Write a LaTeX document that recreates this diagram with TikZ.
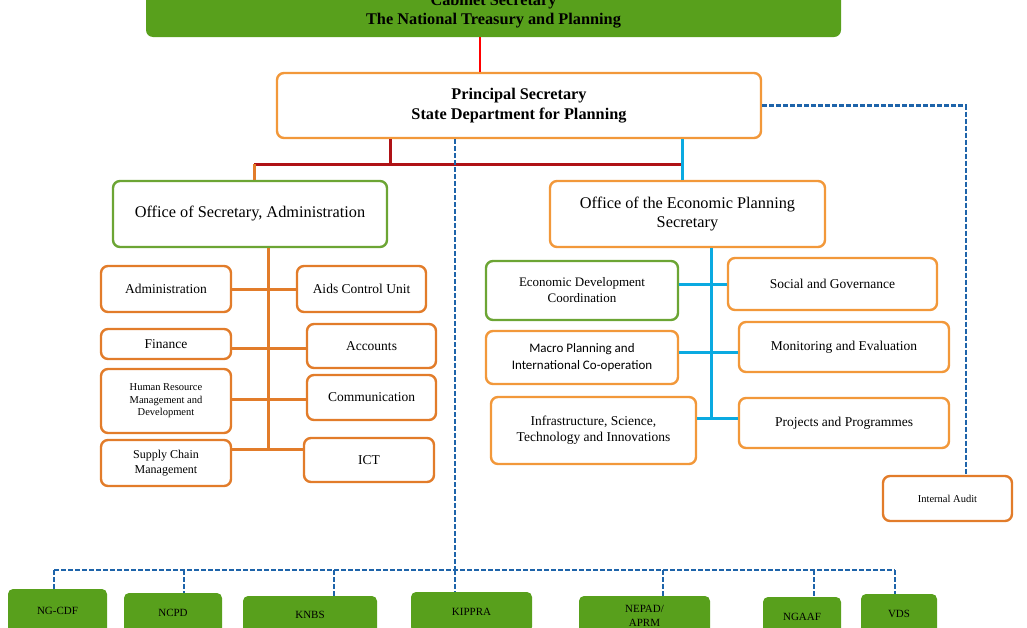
\documentclass[tikz,border=0pt]{standalone}
\usepackage{fontspec}
\setmainfont{Liberation Serif}
\newfontfamily\calib{Carlito}
\usepackage{tikz}
\usetikzlibrary{calc}
\definecolor{leafgreen}{RGB}{88,160,28}
\definecolor{edgegreen}{RGB}{108,165,52}
\definecolor{darkorange}{RGB}{226,124,42}
\definecolor{paleorange}{RGB}{242,152,58}
\definecolor{skyblue}{RGB}{10,170,225}
\definecolor{dashblue}{RGB}{30,100,170}
\definecolor{wine}{RGB}{175,18,22}
\tikzset{
	unit/.style={rounded corners=7pt, line width=2.4pt, fill=white, align=center, inner sep=0pt, text=black},
	leftunit/.style={unit, draw=darkorange, font=\fontsize{13.5}{16}\selectfont},
	rightunit/.style={unit, draw=paleorange, font=\fontsize{13.5}{16}\selectfont},
	greenunit/.style={unit, draw=edgegreen},
	agency/.style={rounded corners=5pt, fill=leafgreen, align=center, inner sep=0pt, font=\fontsize{11}{14}\selectfont},
	dashlink/.style={draw=dashblue, line width=2.4pt, dash pattern=on 5pt off 2pt},
	orangelink/.style={draw=darkorange, line width=3pt},
	bluelink/.style={draw=skyblue, line width=3pt}
}
\begin{document}
\begin{tikzpicture}[x=1pt, y=-1pt]
			%%%%% START %%%%%
			\useasboundingbox (0,0) rectangle (1027,627);
			\clip (0,0) rectangle (1027,627);
			
			% top of the tree
			\node[agency, rounded corners=7pt, minimum width=695pt, minimum height=51pt, font=\bfseries\fontsize{16.3}{19}\selectfont] (cabsec) at (493.5,11.5) {Cabinet Secretary\\The National Treasury and Planning};
			\node[unit, draw=paleorange, minimum width=484pt, minimum height=65pt, font=\bfseries\fontsize{16.3}{20}\selectfont] (ps) at (519,105.5) {Principal Secretary\\State Department for Planning};
			
			\coordinate (redx) at (480,0);
			\draw[red, line width=2.6pt] (cabsec.south -| redx) -- (ps.north -| redx);
			
			% the two offices
			\node[greenunit, minimum width=274pt, minimum height=66pt, font=\fontsize{16.3}{19}\selectfont] (offadmin) at (250,214) {Office of Secretary, Administration};
			\node[rightunit, minimum width=275pt, minimum height=66pt, font=\fontsize{16.3}{19}\selectfont] (offecon) at (687.5,214) {Office of the Economic Planning\\Secretary};
			
			\coordinate (winex) at (390,164);
			\coordinate (splitl) at (254,164);
			\coordinate (splitr) at (682,164);
			\draw[wine, line width=3pt] (ps.south -| winex) -- (winex);
			\draw[wine, line width=3pt] (splitl) -- (splitr);
			\draw[orangelink] (splitl) -- (offadmin.north -| splitl);
			\draw[bluelink] (ps.south -| splitr) -- (offecon.north -| splitr);
			
			% administration side
			\node[leftunit, minimum width=130pt, minimum height=46pt] (admin) at (166,289) {Administration};
			\node[leftunit, minimum width=129pt, minimum height=46pt] (aids) at (361.5,289) {Aids Control Unit};
			\node[leftunit, minimum width=130pt, minimum height=30pt] (finance) at (166,344) {Finance};
			\node[leftunit, minimum width=129pt, minimum height=44pt] (accounts) at (371.5,346) {Accounts};
			\node[leftunit, minimum width=130pt, minimum height=64pt, font=\fontsize{10.5}{12.5}\selectfont] (hrm) at (166,401) {Human Resource\\Management and\\Development};
			\node[leftunit, minimum width=129pt, minimum height=45pt] (comms) at (371.5,397.5) {Communication};
			\node[leftunit, minimum width=130pt, minimum height=46pt, font=\fontsize{12}{15}\selectfont] (supply) at (166,463) {Supply Chain\\Management};
			\node[leftunit, minimum width=130pt, minimum height=44pt] (ict) at (369,460) {ICT};
			
			\coordinate (abot) at (268,449);
			\draw[orangelink] (offadmin.south -| abot) -- (abot);
			\draw[orangelink] (admin.east) -- (aids.west);
			\draw[orangelink] (finance.east |- 0,348) -- (accounts.west |- 0,348);
			\draw[orangelink] (hrm.east |- 0,399) -- (comms.west |- 0,399);
			\draw[orangelink] (supply.east |- abot) -- (ict.west |- abot);
			
			% economic planning side
			\node[greenunit, minimum width=192pt, minimum height=59pt, font=\fontsize{13}{16}\selectfont] (edc) at (582,290.5) {Economic Development\\Coordination};
			\node[rightunit, minimum width=209pt, minimum height=52pt] (social) at (832.5,284) {Social and Governance};
			\node[rightunit, minimum width=192pt, minimum height=53pt, font=\calib\fontsize{13}{17}\selectfont] (macro) at (582,357.5) {Macro Planning and\\International Co-operation};
			\node[rightunit, minimum width=210pt, minimum height=50pt] (monitor) at (844,347) {Monitoring and Evaluation};
			\node[rightunit, minimum width=205pt, minimum height=67pt] (infra) at (593.5,430.5) {Infrastructure, Science,\\Technology and Innovations};
			\node[rightunit, minimum width=210pt, minimum height=50pt] (projects) at (844,423) {Projects and Programmes};
			
			\coordinate (ebot) at (711,420);
			\coordinate (e1) at (711,284);
			\coordinate (e2) at (711,352);
			\coordinate (e3) at (711,418);
			\draw[bluelink] (offecon.south -| ebot) -- (ebot);
			\draw[bluelink] (edc.east |- e1) -- (social.west |- e1);
			\draw[bluelink] (macro.east |- e2) -- (monitor.west |- e2);
			\draw[bluelink] (infra.east |- e3) -- (projects.west |- e3);
			
			% audit
			\node[leftunit, minimum width=129pt, minimum height=45pt, font=\fontsize{10.5}{12}\selectfont] (audit) at (947.5,498.5) {Internal Audit};
			\coordinate (auditx) at (966,0);
			\draw[dashlink] (ps.east) -- (ps.east -| auditx) -- (audit.north -| auditx);
			
			% agencies
			\node[agency, minimum width=99pt, minimum height=44pt] (ngcdf) at (57.5,611) {NG-CDF};
			\node[agency, minimum width=98pt, minimum height=40pt] (ncpd) at (173,613) {NCPD};
			\node[agency, minimum width=134pt, minimum height=38pt] (knbs) at (310,615) {KNBS};
			\node[agency, minimum width=121pt, minimum height=40pt] (kippra) at (471.5,612) {KIPPRA};
			\node[agency, minimum width=131pt, minimum height=40pt, font=\fontsize{11}{14}\selectfont] (nepad) at (644.5,616) {NEPAD/\\APRM};
			\node[agency, minimum width=78pt, minimum height=40pt] (ngaaf) at (802,617) {NGAAF};
			\node[agency, minimum width=76pt, minimum height=40pt] (vds) at (899,614) {VDS};
			
			\foreach \a/\x in {ngcdf/54, ncpd/184, knbs/334, kippra/455, nepad/663, ngaaf/814, vds/895}{
				\coordinate (d\a) at (\x,570);
				\draw[dashlink] (d\a) -- (d\a |- \a.north);
			}
			\draw[dashlink] (dngcdf) -- (dvds);
			\draw[dashlink] (ps.south -| dkippra) -- (dkippra);
			
			%%%%% END %%%%%
\end{tikzpicture}
\end{document}
